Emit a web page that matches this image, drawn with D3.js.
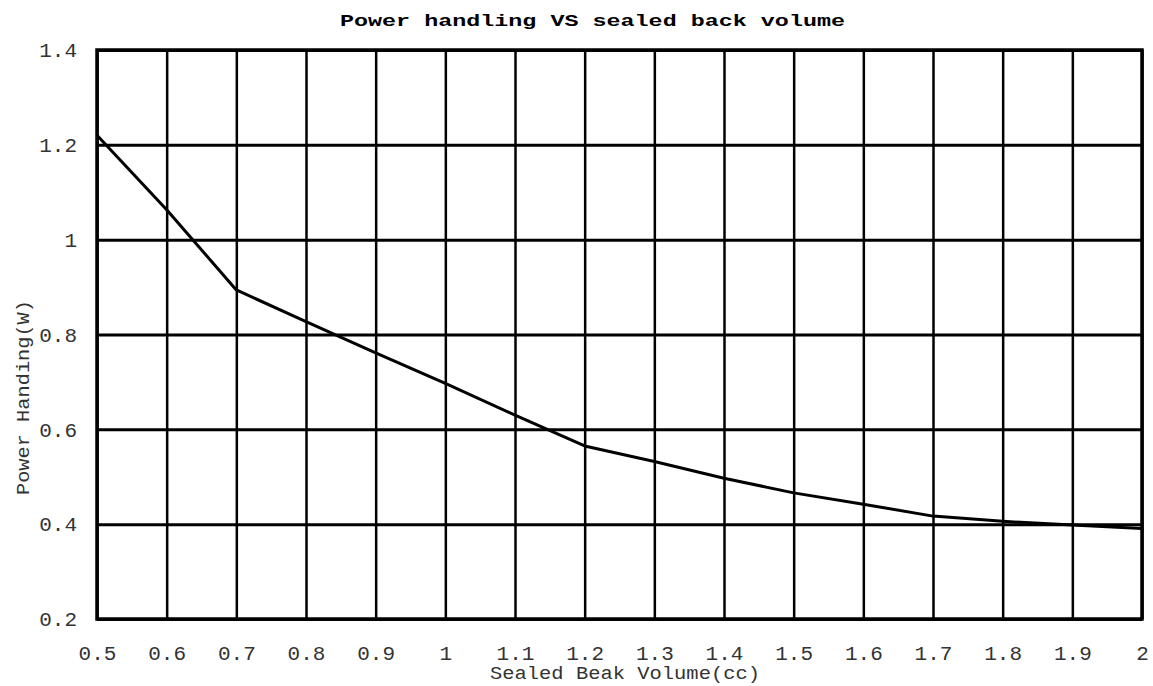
<!DOCTYPE html>
<meta charset="utf-8">
<style>
body { margin: 0; background: #fff; }
.tick text { font: 21px "Liberation Mono", "DejaVu Sans Mono", monospace; fill: #333; }
.title { font: bold 17px "Liberation Mono", monospace; }
.axis-title { font: 18px "Liberation Mono", monospace; fill: #333; }
</style>
<svg width="1153" height="686"></svg>
<script src="https://d3js.org/d3.v7.min.js"></script>
<script>

var volume = [0.5, 0.6, 0.7, 0.8, 0.9, 1.0, 1.1, 1.2, 1.3, 1.4, 1.5, 1.6, 1.7, 1.8, 1.9, 2.0];
var power  = [1.22, 1.063, 0.894, 0.827, 0.761, 0.697, 0.63, 0.565, 0.532, 0.497, 0.466, 0.442, 0.417, 0.406, 0.398, 0.391];

var xTicks = [0.5, 0.6, 0.7, 0.8, 0.9, 1, 1.1, 1.2, 1.3, 1.4, 1.5, 1.6, 1.7, 1.8, 1.9, 2];
var yTicks = [0.2, 0.4, 0.6, 0.8, 1, 1.2, 1.4];

var svg = d3.select("svg"),
    margin = {top: 50, right: 11, bottom: 67, left: 97},
    width = +svg.attr("width") - margin.left - margin.right,
    height = +svg.attr("height") - margin.top - margin.bottom,
    g = svg.append("g").attr("transform", "translate(" + margin.left + "," + margin.top + ")");

var x = d3.scaleLinear().domain([0.5, 2]).range([0, width]);
var y = d3.scaleLinear().domain([0.2, 1.4]).range([height, 0]);

// grid via axes
var xAxis = g.append("g")
    .attr("transform", "translate(0," + height + ")")
    .call(d3.axisBottom(x).tickValues(xTicks).tickSize(-height).tickPadding(26)
      .tickFormat(function(d) { return d3.format("")(d); }));
xAxis.select(".domain").remove();
xAxis.selectAll("line").attr("stroke", "#000").attr("stroke-width", 2.5);

var yAxis = g.append("g")
    .call(d3.axisLeft(y).tickValues(yTicks).tickSize(-width).tickPadding(20)
      .tickFormat(function(d) { return d3.format("")(d); }));
yAxis.select(".domain").remove();
yAxis.selectAll("line").attr("stroke", "#000").attr("stroke-width", 3);

// frame
g.append("rect")
    .attr("width", width)
    .attr("height", height)
    .attr("fill", "none")
    .attr("stroke", "#000")
    .attr("stroke-width", 3.5);

var line = d3.line()
    .x(function(d, i) { return x(volume[i]); })
    .y(function(d) { return y(d); });

g.append("path")
    .datum(power)
    .attr("fill", "none")
    .attr("stroke", "#000")
    .attr("stroke-width", 3)
    .attr("stroke-linejoin", "round")
    .attr("d", line);

svg.append("text")
    .attr("class", "title")
    .attr("x", 340).attr("y", 26)
    .attr("textLength", 505)
    .attr("lengthAdjust", "spacingAndGlyphs")
    .text("Power handling VS sealed back volume");

svg.append("text")
    .attr("class", "axis-title")
    .attr("x", 490).attr("y", 679)
    .attr("textLength", 270)
    .attr("lengthAdjust", "spacingAndGlyphs")
    .text("Sealed Beak Volume(cc)");

svg.append("text")
    .attr("class", "axis-title")
    .attr("transform", "translate(29,495) rotate(-90)")
    .attr("textLength", 195)
    .attr("lengthAdjust", "spacingAndGlyphs")
    .text("Power Handing(W)");

</script>
